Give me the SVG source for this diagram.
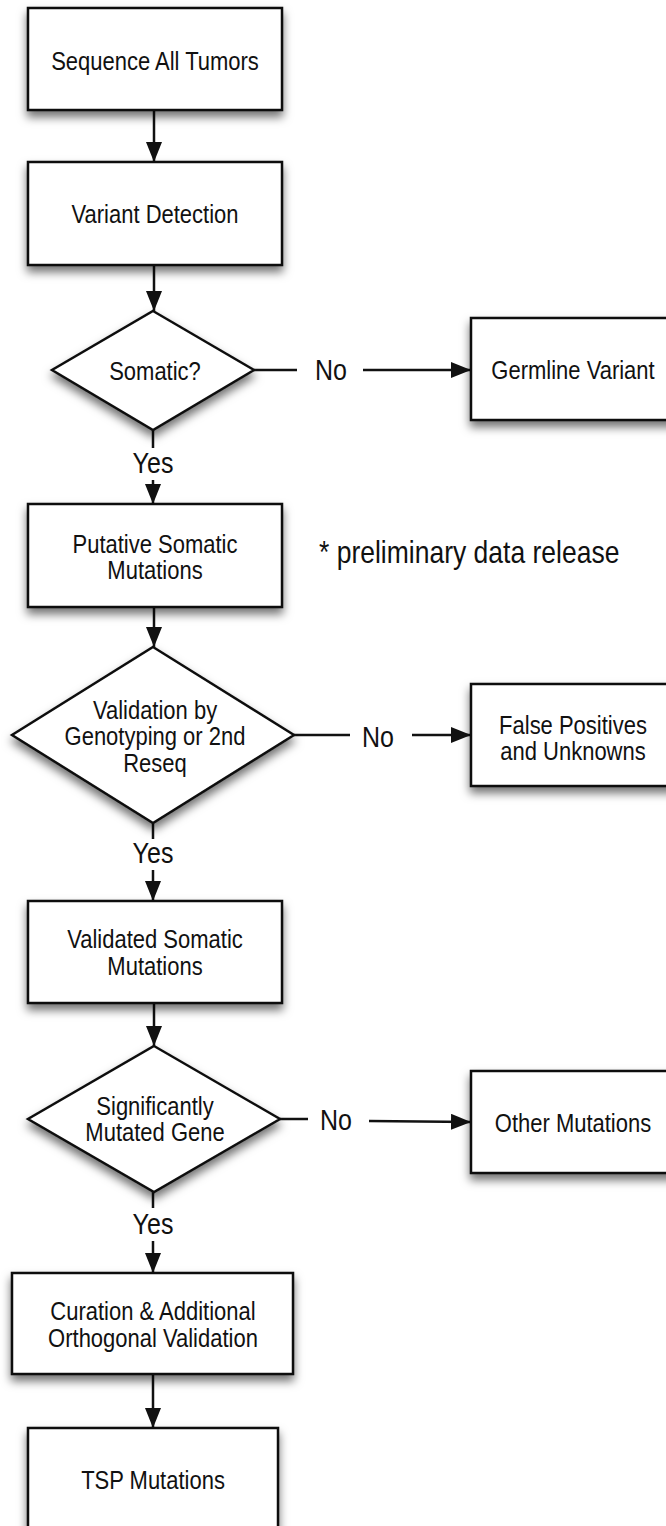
<svg xmlns="http://www.w3.org/2000/svg" width="666" height="1526" viewBox="0 0 666 1526">
<defs>
<filter id="sh" x="-20%" y="-25%" width="140%" height="160%">
<feDropShadow dx="0" dy="6" stdDeviation="5" flood-color="#000" flood-opacity="0.55"/>
</filter>
<marker id="ah" markerWidth="20" markerHeight="16" refX="20" refY="8" orient="auto" markerUnits="userSpaceOnUse">
<path d="M0,0 L20,8 L0,16 Z" fill="#111"/>
</marker>
<style>
.n{fill:#fff;stroke:#111;stroke-width:2.5;filter:url(#sh)}
.t{font-family:"Liberation Sans",Arial,sans-serif;font-size:22px;fill:#111;text-anchor:middle}
.l{font-family:"Liberation Sans",Arial,sans-serif;font-size:25px;fill:#111;text-anchor:middle}
.p{font-family:"Liberation Sans",Arial,sans-serif;font-size:26.5px;fill:#111}
.c{fill:none;stroke:#111;stroke-width:2.5}
.a{fill:none;stroke:#111;stroke-width:2.5;marker-end:url(#ah)}
</style>
</defs>
<rect width="666" height="1526" fill="#fff"/>
<g id="connectors">
<line class="a" x1="154" y1="110" x2="154" y2="162"/>
<line class="a" x1="154" y1="265" x2="154" y2="311"/>
<line class="c" x1="254" y1="370" x2="297" y2="370"/>
<line class="a" x1="363" y1="370" x2="471" y2="370"/>
<line class="c" x1="153" y1="430" x2="153" y2="448"/>
<line class="a" x1="153" y1="480" x2="153" y2="504"/>
<line class="a" x1="154" y1="607" x2="154" y2="647"/>
<line class="c" x1="294" y1="735" x2="350" y2="735"/>
<line class="a" x1="412" y1="735" x2="471" y2="735"/>
<line class="c" x1="153" y1="823" x2="153" y2="839"/>
<line class="a" x1="153" y1="870" x2="153" y2="901"/>
<line class="a" x1="154" y1="1003" x2="154" y2="1046"/>
<line class="c" x1="280" y1="1119" x2="308" y2="1119"/>
<line class="a" x1="369" y1="1121" x2="471" y2="1122"/>
<line class="c" x1="153" y1="1192" x2="153" y2="1208"/>
<line class="a" x1="153" y1="1241" x2="153" y2="1273"/>
<line class="a" x1="153" y1="1374" x2="153" y2="1428"/>
<text class="l" transform="translate(331,380) scale(1,1.15)">No</text>
<text class="l" transform="translate(153,473) scale(1,1.15)">Yes</text>
<text class="l" transform="translate(378,747) scale(1,1.15)">No</text>
<text class="l" transform="translate(153,863) scale(1,1.15)">Yes</text>
<text class="l" transform="translate(336,1130) scale(1,1.15)">No</text>
<text class="l" transform="translate(153,1234) scale(1,1.15)">Yes</text>
</g>
<g id="sequence">
<rect class="n" x="28" y="8" width="254" height="102"/>
<text class="t" transform="translate(155,70) scale(1,1.15)">Sequence All Tumors</text>
</g>
<g id="variant">
<rect class="n" x="28" y="162" width="254" height="103"/>
<text class="t" transform="translate(155,223) scale(1,1.15)">Variant Detection</text>
</g>
<g id="somatic">
<polygon class="n" points="153,311 254,370 153,430 52,370"/>
<text class="t" transform="translate(155,380) scale(1,1.15)">Somatic?</text>
</g>
<g id="germline">
<rect class="n" x="471" y="318" width="215" height="102"/>
<text class="t" transform="translate(573,379) scale(1,1.15)">Germline Variant</text>
</g>
<g id="putative">
<rect class="n" x="28" y="504" width="254" height="103"/>
<text class="t" transform="translate(155,553) scale(1,1.15)">Putative Somatic</text>
<text class="t" transform="translate(155,579) scale(1,1.15)">Mutations</text>
</g>
<g id="note">
<text class="p" transform="translate(319,563) scale(1,1.15)">* preliminary data release</text>
</g>
<g id="validation">
<polygon class="n" points="153,647 294,735 153,823 12,735"/>
<text class="t" transform="translate(155,719) scale(1,1.15)">Validation by</text>
<text class="t" transform="translate(155,745) scale(1,1.15)">Genotyping or 2nd</text>
<text class="t" transform="translate(155,772) scale(1,1.15)">Reseq</text>
</g>
<g id="falsepos">
<rect class="n" x="471" y="684" width="215" height="102"/>
<text class="t" transform="translate(573,734) scale(1,1.15)">False Positives</text>
<text class="t" transform="translate(573,760) scale(1,1.15)">and Unknowns</text>
</g>
<g id="validated">
<rect class="n" x="28" y="901" width="254" height="102"/>
<text class="t" transform="translate(155,948) scale(1,1.15)">Validated Somatic</text>
<text class="t" transform="translate(155,975) scale(1,1.15)">Mutations</text>
</g>
<g id="smg">
<polygon class="n" points="154,1046 280,1119 154,1192 28,1119"/>
<text class="t" transform="translate(155,1115) scale(1,1.15)">Significantly</text>
<text class="t" transform="translate(155,1141) scale(1,1.15)">Mutated Gene</text>
</g>
<g id="other">
<rect class="n" x="471" y="1071" width="215" height="102"/>
<text class="t" transform="translate(573,1132) scale(1,1.15)">Other Mutations</text>
</g>
<g id="curation">
<rect class="n" x="12" y="1273" width="281" height="101"/>
<text class="t" transform="translate(153,1320) scale(1,1.15)">Curation &amp; Additional</text>
<text class="t" transform="translate(153,1347) scale(1,1.15)">Orthogonal Validation</text>
</g>
<g id="tsp">
<rect class="n" x="28" y="1428" width="250" height="120"/>
<text class="t" transform="translate(153,1489) scale(1,1.15)">TSP Mutations</text>
</g>
</svg>
